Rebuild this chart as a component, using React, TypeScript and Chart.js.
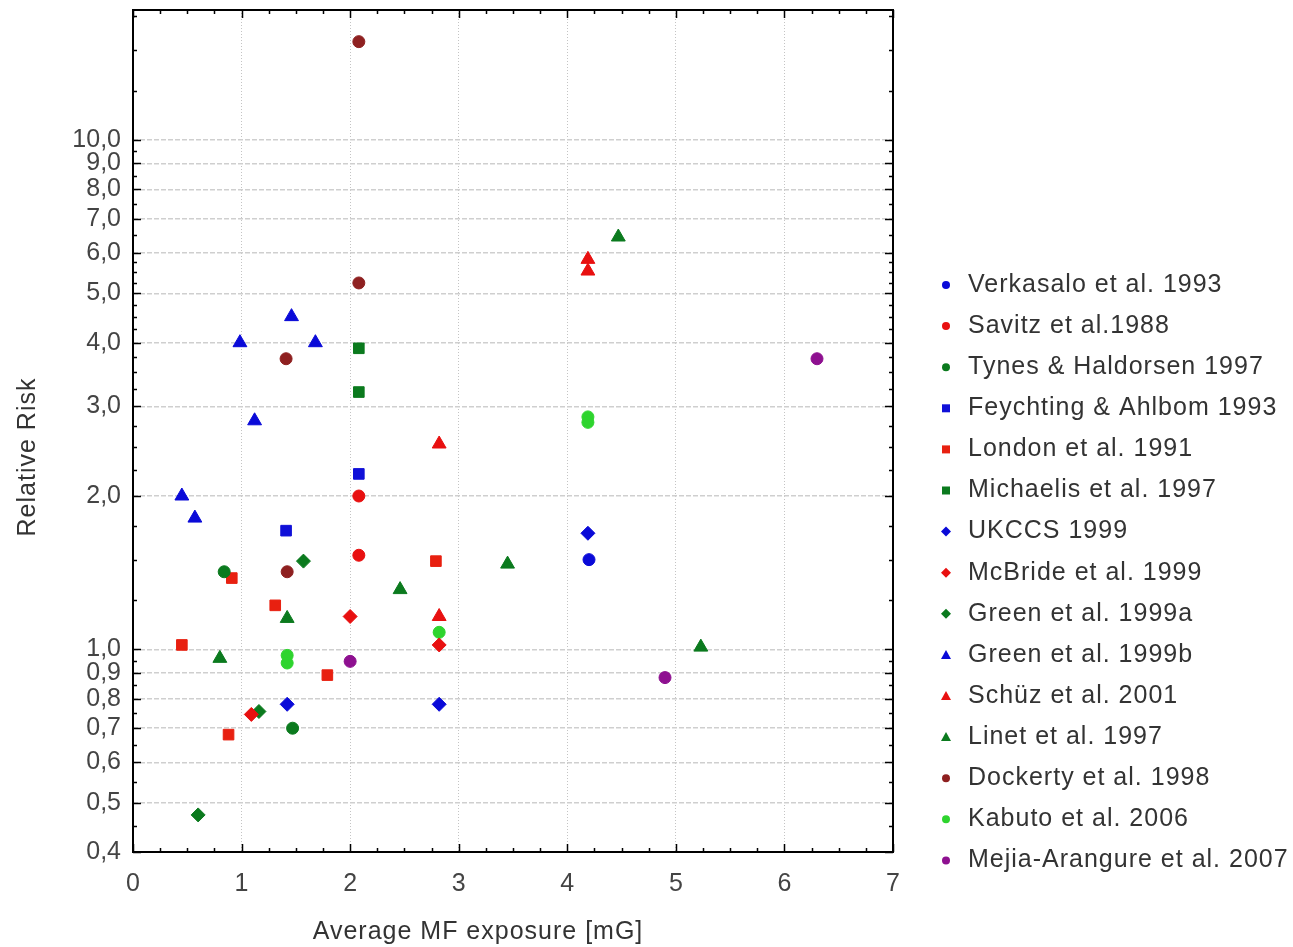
import React, { useEffect, useRef } from 'react';
import { Chart, registerables } from 'chart.js';

Chart.register(...registerables);

// ---- Series definitions ----
const seriesNames = [
  'Verkasalo et al. 1993',
  'Savitz et al.1988',
  'Tynes & Haldorsen 1997',
  'Feychting & Ahlbom 1993',
  'London et al. 1991',
  'Michaelis et al. 1997',
  'UKCCS 1999',
  'McBride et al. 1999',
  'Green et al. 1999a',
  'Green et al. 1999b',
  'Schüz et al. 2001',
  'Linet et al. 1997',
  'Dockerty et al. 1998',
  'Kabuto et al. 2006',
  'Mejia-Arangure et al. 2007',
];
const seriesColors = [
  '#0a0ad8', '#e81010', '#0b7a1e', '#1010d8', '#e82010',
  '#0b7a1e', '#0a0ad8', '#e81010', '#0b7a1e', '#0a0ad8',
  '#e81010', '#0b7a1e', '#8e2020', '#2ed42e', '#8e1090',
];
const seriesShapes = [
  'circle', 'circle', 'circle', 'rect', 'rect',
  'rect', 'rectRot', 'rectRot', 'rectRot', 'triangle',
  'triangle', 'triangle', 'circle', 'circle', 'circle',
];

// ---- Values (x = average MF exposure [mG], y = relative risk) ----
const verkasaloX = [4.2];
const verkasaloY = [1.5];
const savitzX = [2.08, 2.08];
const savitzY = [2.0, 1.53];
const tynesX = [0.84, 1.47];
const tynesY = [1.42, 0.7];
const feychtingX = [2.08, 1.41];
const feychtingY = [2.21, 1.71];
const londonX = [0.45, 0.91, 1.31, 0.88, 1.79, 2.79];
const londonY = [1.02, 1.38, 1.22, 0.68, 0.89, 1.49];
const michaelisX = [2.08, 2.08];
const michaelisY = [3.9, 3.2];
const ukccsX = [4.19, 1.42, 2.82];
const ukccsY = [1.69, 0.78, 0.78];
const mcbrideX = [2.0, 2.82, 1.09];
const mcbrideY = [1.16, 1.02, 0.745];
const greenAX = [1.57, 1.16, 0.6];
const greenAY = [1.49, 0.755, 0.473];
const greenBX = [0.45, 0.57, 0.985, 1.12, 1.46, 1.68];
const greenBY = [2.0, 1.81, 4.0, 2.81, 4.5, 4.0];
const schuzX = [4.19, 4.19, 2.82, 2.82];
const schuzY = [5.83, 5.53, 2.53, 1.16];
const linetX = [4.47, 3.45, 2.46, 1.42, 0.8, 5.23];
const linetY = [6.45, 1.47, 1.31, 1.15, 0.96, 1.01];
const dockertyX = [2.08, 2.08, 1.41, 1.42];
const dockertyY = [15.6, 5.24, 3.72, 1.42];
const kabutoX = [4.19, 4.19, 2.82, 1.42, 1.42];
const kabutoY = [2.86, 2.79, 1.08, 0.973, 0.94];
const mejiaX = [6.3, 4.9, 2.0];
const mejiaY = [3.72, 0.88, 0.947];

const seriesX = [verkasaloX, savitzX, tynesX, feychtingX, londonX, michaelisX, ukccsX, mcbrideX, greenAX, greenBX, schuzX, linetX, dockertyX, kabutoX, mejiaX];
const seriesY = [verkasaloY, savitzY, tynesY, feychtingY, londonY, michaelisY, ukccsY, mcbrideY, greenAY, greenBY, schuzY, linetY, dockertyY, kabutoY, mejiaY];

// ---- Axes ----
const xTickValues = [0, 1, 2, 3, 4, 5, 6, 7];
const xMinorTicks = [0.25, 0.5, 0.75, 1.25, 1.5, 1.75, 2.25, 2.5, 2.75, 3.25, 3.5, 3.75, 4.25, 4.5, 4.75, 5.25, 5.5, 5.75, 6.25, 6.5, 6.75];
const yTickValues = [0.4, 0.5, 0.6, 0.7, 0.8, 0.9, 1, 2, 3, 4, 5, 6, 7, 8, 9, 10];
const yMinorTicks = [
  0.45, 0.55, 0.65, 0.75, 0.85, 0.95,
  1.25, 1.5, 1.75, 2.25, 2.5, 2.75, 3.25, 3.5, 3.75, 4.25, 4.5, 4.75,
  5.25, 5.5, 5.75, 6.5, 7.5, 8.5, 9.5, 12.5, 15, 17.5,
];
const xMin = 0;
const xMax = 7;
const yMin = 0.4;
const yMax = 18;

const xTitle = 'Average MF exposure [mG]';
const yTitle = 'Relative Risk';

const FONT = '"Liberation Sans", Arial, Helvetica, sans-serif';

function markerSize(shape: string): number {
  if (shape === 'triangle') return 8;
  if (shape === 'rect') return 7.5;
  if (shape === 'rectRot') return 7;
  return 6;
}

function drawMarker(ctx: CanvasRenderingContext2D, shape: string, x: number, y: number, r: number, color: string) {
  ctx.beginPath();
  if (shape === 'circle') {
    ctx.arc(x, y, r, 0, Math.PI * 2);
  } else if (shape === 'rect') {
    ctx.rect(x - r, y - r, 2 * r, 2 * r);
  } else if (shape === 'rectRot') {
    ctx.moveTo(x, y - r);
    ctx.lineTo(x + r, y);
    ctx.lineTo(x, y + r);
    ctx.lineTo(x - r, y);
    ctx.closePath();
  } else {
    ctx.moveTo(x, y - r);
    ctx.lineTo(x + r, y + r * 0.8);
    ctx.lineTo(x - r, y + r * 0.8);
    ctx.closePath();
  }
  ctx.fillStyle = color;
  ctx.fill();
}

const framePlugin = {
  id: 'frameLegendTitles',
  afterDraw(chart: any) {
    const { ctx, chartArea: a, scales } = chart;
    const xs = scales.x;
    const ys = scales.y;
    ctx.save();
    ctx.strokeStyle = '#000';
    ctx.lineWidth = 1.5;
    ctx.beginPath();
    const xAll = [...xTickValues.map((v) => [v, 8]), ...xMinorTicks.map((v) => [v, 4])];
    xAll.forEach(([v, len]) => {
      const px = Math.round(xs.getPixelForValue(v)) + 0.5;
      ctx.moveTo(px, a.bottom);
      ctx.lineTo(px, a.bottom - len);
      ctx.moveTo(px, a.top);
      ctx.lineTo(px, a.top + len);
    });
    const yAll = [...yTickValues.map((v) => [v, 8]), ...yMinorTicks.map((v) => [v, 4])];
    yAll.forEach(([v, len]) => {
      const py = Math.round(ys.getPixelForValue(v)) + 0.5;
      ctx.moveTo(a.left, py);
      ctx.lineTo(a.left + len, py);
      ctx.moveTo(a.right, py);
      ctx.lineTo(a.right - len, py);
    });
    ctx.stroke();
    ctx.lineWidth = 2;
    ctx.strokeRect(a.left, a.top, a.right - a.left, a.bottom - a.top);

    // Legend
    ctx.font = `25px ${FONT}`;
    (ctx as any).letterSpacing = '1px';
    ctx.textBaseline = 'middle';
    ctx.textAlign = 'left';
    chart.data.datasets.forEach((ds: any, i: number) => {
      const y = 285 + i * 41.1;
      const shape = ds.pointStyle;
      const r = shape === 'triangle' ? 5 : shape === 'rectRot' ? 5 : 4;
      drawMarker(ctx, shape, 946, y, r, ds.backgroundColor);
      ctx.fillStyle = '#333';
      ctx.fillText(ds.label, 968, y);
    });

    // Axis titles
    ctx.fillStyle = '#333';
    ctx.textAlign = 'center';
    ctx.fillText(xTitle, 478, 932);
    ctx.save();
    ctx.translate(28, 457);
    ctx.rotate(-Math.PI / 2);
    ctx.fillText(yTitle, 0, 0);
    ctx.restore();
    ctx.restore();
  },
};

export default function App() {
  const canvasRef = useRef<HTMLCanvasElement | null>(null);

  useEffect(() => {
    const canvas = canvasRef.current;
    if (!canvas) return;
    const datasets = seriesNames.map((name, i) => ({
      label: name,
      data: seriesX[i].map((x, j) => ({ x, y: seriesY[i][j] })),
      pointStyle: seriesShapes[i],
      pointRadius: markerSize(seriesShapes[i]),
      backgroundColor: seriesColors[i],
      borderColor: seriesColors[i],
      borderWidth: 1,
      showLine: false,
    }));

    const chart = new Chart(canvas, {
      type: 'scatter',
      data: { datasets },
      options: {
        responsive: false,
        animation: false,
        devicePixelRatio: 1,
        layout: { padding: { top: 10, right: 400, left: 0, bottom: 0 } },
        plugins: {
          legend: { display: false },
          tooltip: { enabled: false },
        },
        scales: {
          x: {
            type: 'linear',
            min: xMin,
            max: xMax,
            afterBuildTicks: (scale: any) => {
              scale.ticks = xTickValues.map((v) => ({ value: v }));
            },
            afterFit: (scale: any) => {
              scale.height = 95;
              scale.paddingLeft = 0;
              scale.paddingRight = 0;
            },
            ticks: {
              autoSkip: false,
              maxRotation: 0,
              padding: 17,
              color: '#444',
              font: { family: FONT, size: 25 },
              callback: (v: any) => String(v),
            },
            grid: {
              drawTicks: false,
              color: (c: any) => (c.tick && (c.tick.value === 0 || c.tick.value === 7) ? 'rgba(0,0,0,0)' : '#c4c4c4'),
              lineWidth: 1,
            },
            border: { display: false, dash: [1, 2] },
          },
          y: {
            type: 'logarithmic',
            min: yMin,
            max: yMax,
            afterBuildTicks: (scale: any) => {
              scale.ticks = yTickValues.map((v) => ({ value: v }));
            },
            afterFit: (scale: any) => {
              scale.width = 133;
              scale.paddingTop = 0;
              scale.paddingBottom = 0;
            },
            ticks: {
              autoSkip: false,
              padding: 12,
              color: '#444',
              font: { family: FONT, size: 25 },
              callback: (v: any) => Number(v).toFixed(1).replace('.', ','),
            },
            grid: {
              drawTicks: false,
              color: (c: any) => (c.tick && c.tick.value === 0.4 ? 'rgba(0,0,0,0)' : '#cfcfcf'),
              lineWidth: 1.5,
            },
            border: { display: false, dash: [5, 2] },
          },
        },
      },
      plugins: [framePlugin],
    } as any);

    return () => chart.destroy();
  }, []);

  return (
    <div style={{ position: 'absolute', left: 0, top: 0, width: 1293, height: 947, background: '#fff' }}>
      <canvas ref={canvasRef} width={1293} height={947} style={{ display: 'block' }} />
    </div>
  );
}
